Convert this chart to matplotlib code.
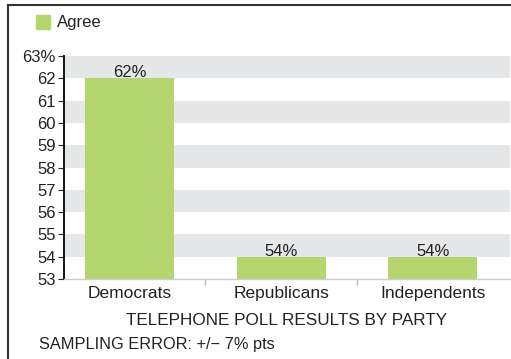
import matplotlib
matplotlib.use("Agg")
import matplotlib.pyplot as plt
from matplotlib.lines import Line2D
from matplotlib.patches import Rectangle

categories = ["Democrats", "Republicans", "Independents"]
agree = [62, 54, 54]
value_labels = ["62%", "54%", "54%"]
ytick_values = [53, 54, 55, 56, 57, 58, 59, 60, 61, 62, 63]
ytick_labels = ["53", "54", "55", "56", "57", "58", "59", "60", "61", "62", "63%"]
series_name = "Agree"
xlabel = "TELEPHONE POLL RESULTS BY PARTY"
footnote = "SAMPLING ERROR: +/\u2212 7% pts"

plt.rcParams['font.family'] = ['Liberation Sans', 'DejaVu Sans']
GREEN = "#b5d56e"
BAND = "#e6e7e9"
TXT = "#222222"

fig = plt.figure(figsize=(5.11, 3.59), dpi=100)
ax = fig.add_axes([64/511, 1-279/359, (510-64)/511, (279-56)/359])

# background bands
for lo in range(54, 63, 2):
    ax.axhspan(lo, lo + 1, color=BAND, zorder=0, lw=0)

x = list(range(len(categories)))
ax.bar(x, [v - 53 for v in agree], bottom=53, width=0.59, color=GREEN, zorder=2)
for xi, v, lab in zip(x, agree, value_labels):
    ax.annotate(lab, (xi, v), xytext=(0, -1.5), textcoords="offset points",
                ha="center", va="bottom", fontsize=12, color=TXT)

ax.set_xlim(-0.434, 2.51)
ax.set_ylim(53, 63)
ax.set_yticks(ytick_values)
ax.set_yticklabels(ytick_labels, fontsize=12, color=TXT)
ax.set_xticks(x)
ax.set_xticklabels(categories, fontsize=12.5, color=TXT)
ax.tick_params(axis="x", length=0, pad=5)
ax.set_xticks([0.5, 1.5], minor=True)
ax.tick_params(axis="x", which="minor", length=4, color="#bbbbbb", width=1)
ax.tick_params(axis="y", length=4, color="#222222", width=0.8, pad=2)

for s in ["top", "right"]:
    ax.spines[s].set_visible(False)
ax.spines["left"].set_color("#111111")
ax.spines["left"].set_linewidth(1.4)
ax.spines["bottom"].set_color("#cccccc")
ax.spines["bottom"].set_linewidth(1)

ax.set_xlabel(xlabel, fontsize=12.3, color=TXT, labelpad=9)

# legend
fig.patches.append(Rectangle((36/511, 1-29/359), 14/511, 14/359,
                             transform=fig.transFigure, color=GREEN))
fig.text(57/511, 1-22/359, series_name, fontsize=12, color=TXT, va="center", ha="left")

# footnote
fig.text(39/511, 1-345/359, footnote, fontsize=11.8, color=TXT, va="center", ha="left")

# frame lines
fig.add_artist(Line2D([8/511, 8/511], [0, 1-5/359], transform=fig.transFigure,
                      color="#333333", lw=1.5))
fig.add_artist(Line2D([8/511, 1], [1-5/359, 1-5/359], transform=fig.transFigure,
                      color="#333333", lw=1.5))

fig.savefig("out.png", dpi=100)
